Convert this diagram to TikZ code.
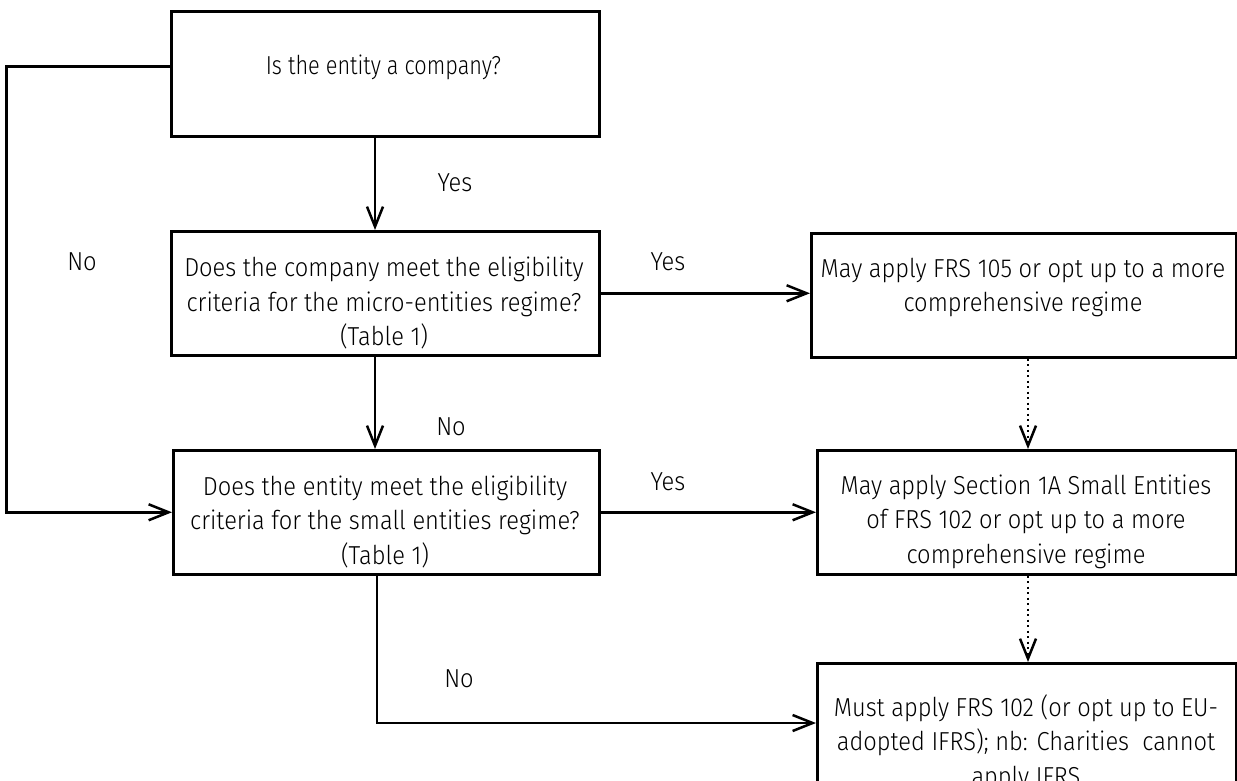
\documentclass[tikz,border=0pt]{standalone}
\usepackage{fontspec}
\setmainfont{Fira Sans Light}[FakeStretch=0.91]
\newfontfamily\narrowfont{Fira Sans Light}[FakeStretch=0.835]
\usetikzlibrary{arrows.meta,calc}
\tikzset{
  box/.style={draw=black, line width=2.5pt, rectangle, anchor=north west, inner sep=0pt},
  txt/.style={align=center, font=\fontsize{26}{34.5}\selectfont, inner sep=0pt},
  lbl/.style={font=\fontsize{26}{30}\selectfont, inner sep=0pt},
  arr/.style={line width=2.5pt, -{Straight Barb[length=20pt,width=16pt,line width=2.5pt]}},
  dotarr/.style={line width=2.5pt, dash pattern=on 2pt off 3.5pt, -{Straight Barb[length=20pt,width=16pt,line width=2.5pt,sep=0pt]}}
}
\begin{document}
\begin{tikzpicture}[x=1pt,y=-1pt]
\useasboundingbox (0,0) rectangle (1237,780);
% boxes
\node[box, minimum width=428pt, minimum height=125pt] (b1) at (170,10) {};
\node[box, minimum width=428pt, minimum height=124pt] (b2) at (170,230) {};
\node[box, minimum width=426pt, minimum height=124pt] (b3) at (172,449) {};
\node[box, minimum width=425pt, minimum height=124pt] (r1) at (810,232) {};
\node[box, minimum width=419pt, minimum height=124pt] (r2) at (816,449) {};
\node[box, minimum width=419pt, minimum height=150pt] (r3) at (816,662) {};
% texts
\node[txt, font=\fontsize{26}{34.5}\narrowfont] (t1) at (383.5,67) {Is the entity a company?};
\node[txt] (t2) at (384,303) {Does the company meet the eligibility\\criteria for the micro-entities regime?\\(Table 1)};
\node[txt] (t3) at (385,521.5) {Does the entity meet the eligibility\\criteria for the small entities regime?\\(Table 1)};
\node[txt] (t4) at (1023,287.5) {May apply FRS 105 or opt up to a more\\comprehensive regime};
\node[txt] (t5) at (1026,521.5) {May apply Section 1A Small Entities\\of FRS 102 or opt up to a more\\comprehensive regime};
\node[txt] (t6) at (1026,742.5) {Must apply FRS 102 (or opt up to EU-\\adopted IFRS); nb: Charities\ \ cannot\\apply IFRS};
% labels
\node[lbl] (l1) at (455,183) {Yes};
\node[lbl] (l2) at (82,262) {No};
\node[lbl] (l3) at (668,262) {Yes};
\node[lbl] (l4) at (451,427) {No};
\node[lbl] (l5) at (668,482) {Yes};
\node[lbl] (l6) at (459,679) {No};
% helper coordinates
\coordinate (lft) at (6.5,66.5);
\coordinate (xa) at (375,0);
\coordinate (xd) at (1028,0);
\coordinate (nb) at (377,723);
% connectors
\draw[arr] (b1.west |- lft) -- (lft) |- (b3.west);
\draw[arr] (b1.south -| xa) -- (b2.north -| xa);
\draw[arr] (b2.south -| xa) -- (b3.north -| xa);
\draw[arr] (b2.east) -- (b2.east -| r1.west);
\draw[arr] (b3.east) -- (r2.west);
\draw[dotarr] (r1.south -| xd) -- (r2.north -| xd);
\draw[dotarr] (r2.south -| xd) -- (r3.north -| xd);
\draw[arr] (b3.south -| nb) -- (nb) -- (nb -| r3.west);
\end{tikzpicture}
\end{document}
